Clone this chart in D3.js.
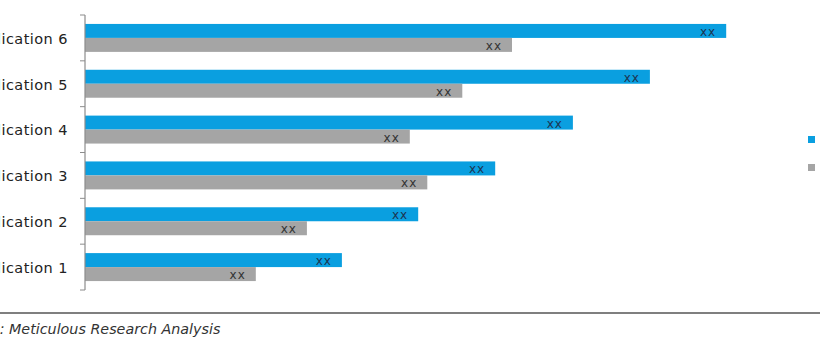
<!DOCTYPE html>
<html>
<head>
<meta charset="utf-8">
<script src="https://cdn.jsdelivr.net/npm/d3@7"></script>
<style>
  html, body { margin: 0; padding: 0; background: #fff; overflow: hidden; }
  svg { display: block; }
</style>
</head>
<body>
<svg id="chart" width="820" height="350"></svg>
<script>
// Categories, top to bottom
const categories = ["Application 6", "Application 5", "Application 4", "Application 3", "Application 2", "Application 1"];
// Series names (legend)
const seriesNames = ["2031", "2024"];
// Series values per category (same order as categories)
const seriesA = [91.6, 80.7, 69.7, 58.6, 47.6, 36.7];
const seriesB = [61.0, 53.9, 46.4, 48.9, 31.7, 24.4];
// Value labels shown on the bars
const valueLabels = ["xx", "xx", "xx", "xx", "xx", "xx"];
const sourceText = "Source: Meticulous Research Analysis";

const colors = ["#0a9fe0", "#a5a5a5"];

const svg = d3.select("#chart");
const plotLeft = 85, plotRight = 785, plotTop = 15, plotBottom = 290;

const x = d3.scaleLinear().domain([0, 100]).range([plotLeft, plotRight]);
const y = d3.scaleBand().domain(categories).range([plotTop, plotBottom]).paddingInner(0.39).paddingOuter(0.195);
const sub = d3.scaleBand().domain([0, 1]).range([0, y.bandwidth()]);

const rows = categories.map((c, i) => ({ c, vals: [seriesA[i], seriesB[i]] }));

const g = svg.append("g");
const groups = g.selectAll("g.row").data(rows).join("g")
  .attr("class", "row")
  .attr("transform", d => `translate(0,${y(d.c)})`);

groups.selectAll("rect").data(d => d.vals.map((v, k) => ({ v, k }))).join("rect")
  .attr("x", x(0))
  .attr("y", d => sub(d.k))
  .attr("width", d => x(d.v) - x(0))
  .attr("height", sub.bandwidth())
  .attr("fill", d => colors[d.k]);

groups.selectAll("text.val").data((d, i) => d.vals.map((v, k) => ({ v, k, t: valueLabels[i] }))).join("text")
  .attr("class", "val")
  .attr("x", d => x(d.v) - 10)
  .attr("y", d => sub(d.k) + sub.bandwidth() / 2 + 5)
  .attr("text-anchor", "end")
  .attr("font-family", "DejaVu Sans, Verdana, sans-serif")
  .attr("font-size", 12)
  .attr("letter-spacing", 1)
  .attr("fill", d => d.k === 0 ? "#1d3550" : "#333")
  .text(d => d.t);

// Category axis with labels centred on each band
const axis = d3.axisLeft(y).tickSize(0).tickPadding(17);
const ax = svg.append("g").attr("transform", `translate(${plotLeft},0)`).call(axis);
ax.select(".domain").attr("stroke", "#8c8c8c").attr("stroke-width", 1.2).attr("d", `M0,${plotTop}V${plotBottom}`);
ax.selectAll("text")
  .attr("font-family", "DejaVu Sans, Verdana, sans-serif")
  .attr("font-size", 14.5)
  .attr("letter-spacing", 0.45)
  .attr("dy", "0.4em")
  .attr("fill", "#222");

// Tick marks on band boundaries
const boundaries = d3.range(categories.length + 1).map(i => plotTop + i * y.step());
ax.selectAll("line.bound").data(boundaries).join("line")
  .attr("class", "bound")
  .attr("x1", -5).attr("x2", 0)
  .attr("y1", d => d).attr("y2", d => d)
  .attr("stroke", "#8c8c8c");

// Legend
const legend = svg.append("g").attr("transform", "translate(808,136)");
seriesNames.forEach((n, i) => {
  legend.append("rect").attr("x", 0).attr("y", i * 28).attr("width", 7).attr("height", 7).attr("fill", colors[i]);
  legend.append("text").attr("x", 14).attr("y", i * 28 + 7)
    .attr("font-family", "DejaVu Sans, Verdana, sans-serif").attr("font-size", 12).attr("fill", "#222").text(n);
});

// Footer rule and source note
svg.append("line").attr("x1", 0).attr("x2", 820).attr("y1", 313).attr("y2", 313)
  .attr("stroke", "#555").attr("stroke-width", 1.5);
const src = svg.append("text")
  .attr("y", 334)
  .attr("font-family", "DejaVu Sans, Verdana, sans-serif")
  .attr("font-style", "italic")
  .attr("font-size", 14.3)
  .attr("fill", "#333")
  .text(sourceText);
const prefix = src.node().getSubStringLength(0, sourceText.indexOf("Meticulous"));
src.attr("x", 9 - prefix);
</script>
</body>
</html>
